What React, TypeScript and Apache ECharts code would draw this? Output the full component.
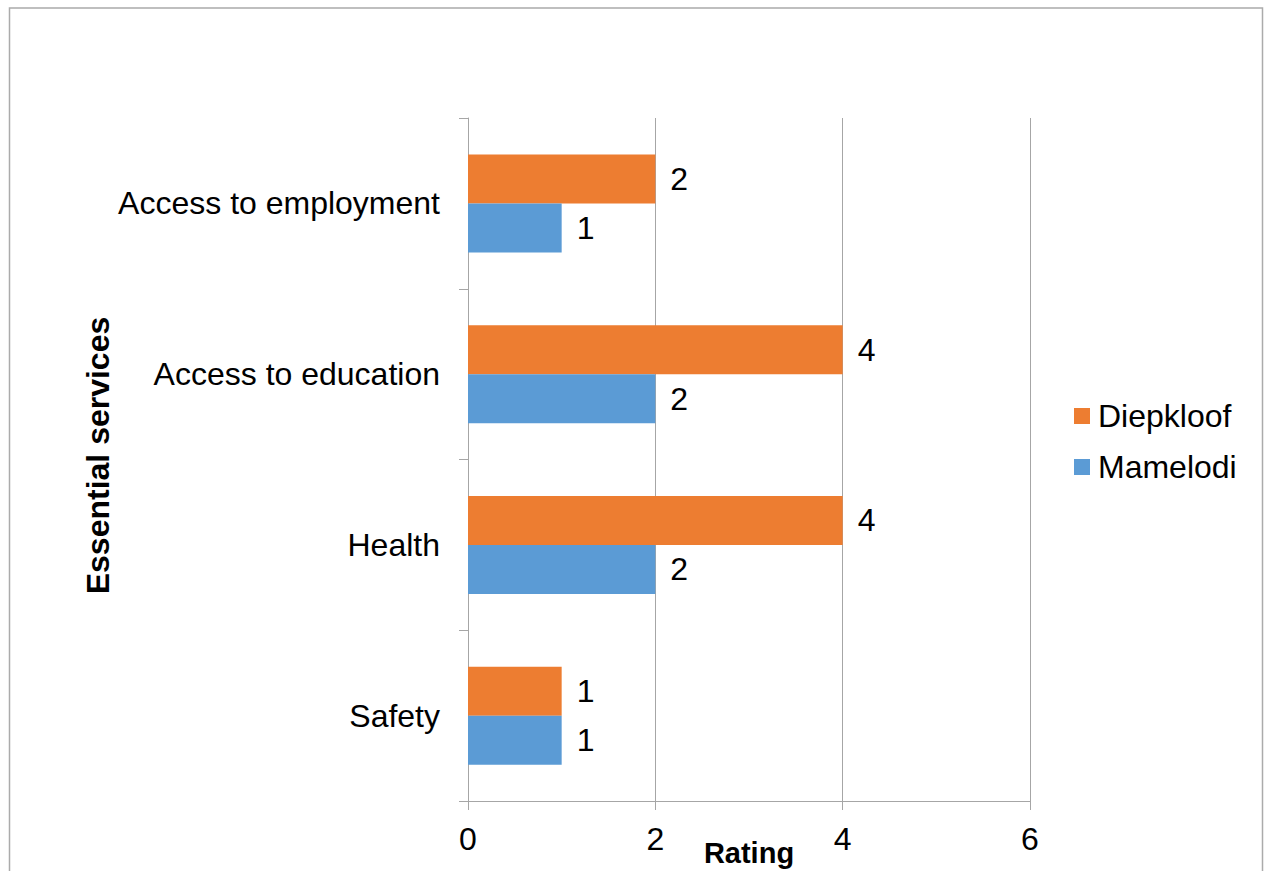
import React, { useEffect, useRef } from "react";
import * as echarts from "echarts";

const categories = ["Safety", "Health", "Access to education", "Access to employment"];
const mamelodi = [1, 2, 2, 1];
const diepkloof = [1, 4, 4, 2];
const xTicks = { min: 0, max: 6, interval: 2 };
const FONT = "'Liberation Sans', Arial, sans-serif";

export default function App() {
  const ref = useRef<HTMLDivElement>(null);
  useEffect(() => {
    if (!ref.current) return;
    const chart = echarts.init(ref.current, null, { renderer: "svg", width: 1264, height: 871 });
    const label = {
      show: true,
      position: "right",
      distance: 15,
      color: "#000",
      fontSize: 32,
      fontFamily: FONT,
    };
    chart.setOption({
      animation: false,
      backgroundColor: "#fff",
      textStyle: { fontFamily: FONT },
      graphic: [
        {
          type: "rect",
          shape: { x: 9.5, y: 8, width: 1253, height: 900 },
          style: { fill: "none", stroke: "#ABABAB", lineWidth: 1.5 },
          silent: true,
        },
      ],
      legend: {
        orient: "vertical",
        left: 1074,
        top: 400,
        padding: 0,
        itemWidth: 16,
        itemHeight: 16,
        itemGap: 19,
        icon: "rect",
        data: ["Diepkloof", "Mamelodi"],
        textStyle: { fontSize: 32, color: "#000", fontFamily: FONT, padding: [0, 0, 0, 3] },
      },
      grid: {
        left: 468,
        right: 234,
        top: 118,
        bottom: 70,
        containLabel: false,
        outerBoundsMode: "none",
      },
      xAxis: {
        type: "value",
        min: xTicks.min,
        max: xTicks.max,
        interval: xTicks.interval,
        name: "Rating",
        nameLocation: "middle",
        nameGap: 37,
        nameMoveOverlap: false,
        nameTextStyle: { fontSize: 29, fontWeight: "bold", color: "#000", fontFamily: FONT },
        axisLine: { show: true, lineStyle: { color: "#A6A6A6", width: 1 } },
        axisTick: { show: true, length: 9, lineStyle: { color: "#A6A6A6" } },
        axisLabel: { fontSize: 32, color: "#000", margin: 22, fontFamily: FONT },
        splitLine: { show: true, lineStyle: { color: "#A6A6A6", width: 1 } },
      },
      yAxis: {
        type: "category",
        data: categories,
        name: "Essential services",
        nameLocation: "middle",
        nameGap: 354,
        nameMoveOverlap: false,
        nameTextStyle: {
          fontSize: 32,
          fontWeight: "bold",
          color: "#000",
          fontFamily: FONT,
          padding: [0, 0, 0, 8],
        },
        axisLine: { show: true, lineStyle: { color: "#A6A6A6", width: 1 } },
        axisTick: { show: true, length: 9, lineStyle: { color: "#A6A6A6" } },
        axisLabel: { fontSize: 32, color: "#000", margin: 28, fontFamily: FONT },
        splitLine: { show: false },
      },
      series: [
        {
          name: "Diepkloof",
          type: "bar",
          data: diepkloof,
          barWidth: 49,
          barGap: "0%",
          itemStyle: { color: "#ED7D31" },
          label,
        },
        {
          name: "Mamelodi",
          type: "bar",
          data: mamelodi,
          barWidth: 49,
          barGap: "0%",
          itemStyle: { color: "#5B9BD5" },
          label,
        },
      ],
    });
    return () => chart.dispose();
  }, []);
  return (
    <div
      ref={ref}
      style={{ position: "fixed", left: 0, top: 0, width: 1264, height: 871 }}
    />
  );
}
